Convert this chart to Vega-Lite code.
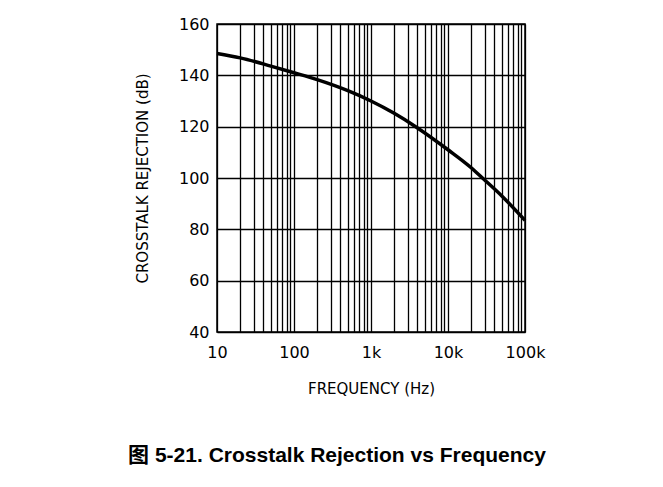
{
  "$schema": "https://vega.github.io/schema/vega-lite/v6.json",
  "width": 308,
  "height": 308,
  "autosize": {"type": "none"},
  "padding": {"left": 217, "top": 24, "right": 138, "bottom": 155},
  "background": "white",
  "title": {
    "text": "图 5-21. Crosstalk Rejection vs Frequency",
    "orient": "bottom",
    "anchor": "middle",
    "dx": -34,
    "offset": 49,
    "font": "Liberation Sans, Noto Sans CJK SC",
    "fontSize": 21,
    "fontWeight": "bold",
    "color": "black"
  },
  "data": {
    "values": [
      {"f": 10, "db": 148.5},
      {"f": 20, "db": 146.8},
      {"f": 50, "db": 143.6},
      {"f": 100, "db": 141},
      {"f": 200, "db": 138.3},
      {"f": 500, "db": 134},
      {"f": 1000, "db": 130},
      {"f": 2000, "db": 125.2},
      {"f": 3800, "db": 120},
      {"f": 10000, "db": 111},
      {"f": 20000, "db": 104},
      {"f": 28000, "db": 100},
      {"f": 50000, "db": 93},
      {"f": 100000, "db": 83.5}
    ]
  },
  "mark": {"type": "line", "color": "black", "strokeWidth": 3.5, "interpolate": "monotone"},
  "encoding": {
    "x": {
      "field": "f",
      "type": "quantitative",
      "scale": {"type": "log", "domain": [10, 100000], "nice": false},
      "axis": {
        "title": "FREQUENCY (Hz)",
        "values": [10,20,30,40,50,60,70,80,90,100,200,300,400,500,600,700,800,900,1000,2000,3000,4000,5000,6000,7000,8000,9000,10000,20000,30000,40000,50000,60000,70000,80000,90000,100000],
        "labelExpr": "datum.value == 10 ? '10' : datum.value == 100 ? '100' : datum.value == 1000 ? '1k' : datum.value == 10000 ? '10k' : datum.value == 100000 ? '100k' : ''",
        "ticks": false,
        "tickSize": 0,
        "domain": false,
        "labelPadding": 12,
        "labelFlush": false,
        "labelOverlap": false,
        "titlePadding": 21
      }
    },
    "y": {
      "field": "db",
      "type": "quantitative",
      "scale": {"domain": [40, 160], "nice": false},
      "axis": {
        "title": "CROSSTALK REJECTION (dB)",
        "values": [40, 60, 80, 100, 120, 140, 160],
        "ticks": false,
        "tickSize": 0,
        "domain": false,
        "labelPadding": 8,
        "labelFlush": false,
        "titlePadding": 28
      }
    }
  },
  "config": {
    "view": {"stroke": "black", "strokeWidth": 1.5},
    "axis": {
      "grid": true,
      "gridColor": "black",
      "gridOpacity": 1,
      "gridWidth": 1.3,
      "labelFont": "DejaVu Sans",
      "labelFontSize": 16,
      "labelColor": "black",
      "titleFont": "DejaVu Sans",
      "titleFontSize": 15,
      "titleFontWeight": "normal",
      "titleColor": "black"
    }
  }
}
